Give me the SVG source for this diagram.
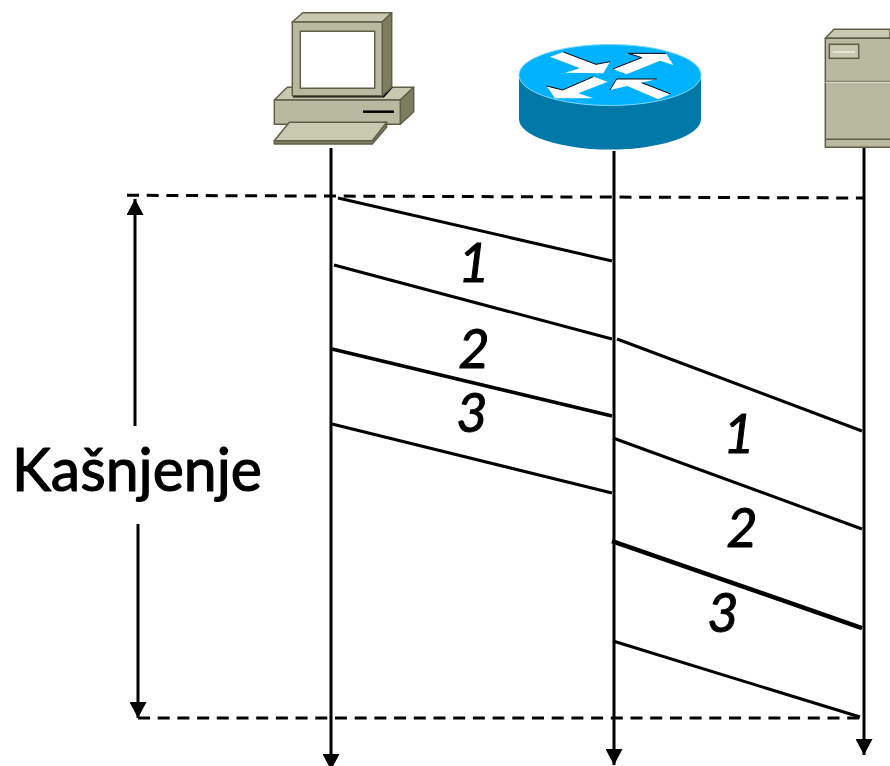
<svg xmlns="http://www.w3.org/2000/svg" width="890" height="766" viewBox="0 0 890 766">
<style>
.t{font-family:"Lato","Liberation Sans",sans-serif;fill:#000;stroke:#000}
.n{font-size:54px;font-style:italic;stroke-width:1px;text-anchor:middle}
.k{font-size:60px;stroke-width:1.2px;stroke-linejoin:round}
.l{stroke:#000;fill:none;stroke-width:3}
.d{stroke:#000;fill:none;stroke-width:3;stroke-dasharray:12 7.7}
.g{stroke:#5f5f48;stroke-width:1.5;stroke-linejoin:round}
.a{fill:#fff}
</style>
<defs>
<marker id="ah" markerUnits="userSpaceOnUse" markerWidth="17" markerHeight="17" refX="16" refY="8.5" orient="auto"><path d="M0 0L16 8.5L0 17Z" fill="#000"/></marker>
</defs>
<rect width="890" height="766" fill="#fff"/>
<g id="computer">
<path class="g" fill="#c9c9b0" d="M274.3 100L287.3 87.3H413.7L400.3 100Z"/>
<path class="g" fill="#7d7d5f" d="M400.3 100L413.7 87.3V111.7L400.3 124.3Z"/>
<rect class="g" fill="#b9b99f" x="274.3" y="100" width="126" height="24.3"/>
<path d="M363 111.7H394" stroke="#000" stroke-width="2.5"/>
<path fill="#000" d="M293 95.7H382L393 87V87.5L384 97.5H293Z"/>
<path class="g" fill="#c9c9b0" d="M292.3 22L302.7 12.7H391.7L382.3 22Z"/>
<path class="g" fill="#7d7d5f" d="M382.3 22L391.7 12.7V87L382.3 95.7Z"/>
<rect class="g" fill="#b9b99f" x="292.3" y="22" width="90" height="73.7"/>
<rect class="g" fill="#fff" x="300.3" y="31.3" width="74.4" height="57"/>
<path class="g" fill="#7d7d5f" d="M386.7 122.3V127L372.3 144H274.3V140.7Z"/>
<path class="g" fill="#c9c9b0" d="M274.3 140.7L289.3 122.3H386.7L372.3 140.7Z"/>
</g>
<g id="router">
<path fill="#0078a8" d="M519 75V119A91 30.5 0 0 0 701 119V75Z"/>
<ellipse cx="610" cy="75" rx="91" ry="30.5" fill="#00b2ff" stroke="#7fd8ff" stroke-width="1"/>
<g transform="translate(510 30) scale(.3333)">
<path class="a" d="M120 80L160 66L258 103L300 95L280 130L165 128L210 115Z"/>
<path d="M160 66L258 103L300 95" fill="none" stroke="#000" stroke-width="3"/>
<path class="a" d="M308 117L395 83L355 70H468L490 105L450 92L350 133Z"/>
<path d="M308 117L395 83L355 70H468" fill="none" stroke="#000" stroke-width="3"/>
<path class="a" d="M293 155L250 140L158 180L110 168L135 205H250L205 190Z"/>
<path d="M250 140L158 180L110 168" fill="none" stroke="#000" stroke-width="3"/>
<path class="a" d="M300 180L320 147H440L395 158L482 192L445 208L352 168Z"/>
<path d="M300 180L320 147H440M395 158L482 192" fill="none" stroke="#000" stroke-width="3"/>
</g>
</g>
<g id="server">
<path class="g" fill="#c9c9b0" d="M825.3 38.3L834 29.3H890V38.3Z"/>
<rect class="g" fill="#b9b99f" x="825.3" y="38.3" width="66" height="109"/>
<path d="M825.3 81.3H890" stroke="#5f5f48" stroke-width="1"/>
<path d="M825.3 82.3H890" stroke="#e6e6d2" stroke-width="1"/>
<path d="M825.3 139.3H890" stroke="#5f5f48" stroke-width="1.5"/>
<rect x="829.3" y="44.3" width="29.4" height="14" fill="#c9c9b0" stroke="#5f5f48" stroke-width="1.5"/>
<path d="M832.7 52H855" stroke="#e6e6d2" stroke-width="2"/>
</g>
<g id="connectors">
<path class="d" d="M127 195.3L863 198"/>
<path class="d" d="M138 718H860"/>
<path class="l" d="M331 148V770" marker-end="url(#ah)"/>
<path class="l" d="M614 151V765" marker-end="url(#ah)"/>
<path class="l" d="M864 148V755" marker-end="url(#ah)"/>
<path class="l" d="M135 426V199" marker-end="url(#ah)"/>
<path class="l" d="M138 524V718" marker-end="url(#ah)"/>
<path class="l" d="M338 198L612 261"/>
<path class="l" d="M334 265L612 339"/>
<path class="l" style="stroke-width:3.5" d="M332 349L612 416"/>
<path class="l" d="M332 424L612 493"/>
<path class="l" d="M617 339L862 431"/>
<path class="l" d="M613 438L862 529"/>
<path class="l" style="stroke-width:4.5" d="M612 541L862 628"/>
<path class="l" d="M613 641L860 717"/>
</g>
<g id="labels">
<text class="t k" x="12" y="491" textLength="250" lengthAdjust="spacingAndGlyphs">Kašnjenje</text>
<text class="t n" x="474" y="282">1</text>
<text class="t n" x="474" y="368">2</text>
<text class="t n" x="472" y="432">3</text>
<text class="t n" x="739" y="453">1</text>
<text class="t n" x="742" y="547">2</text>
<text class="t n" x="723" y="632">3</text>
</g>
</svg>
